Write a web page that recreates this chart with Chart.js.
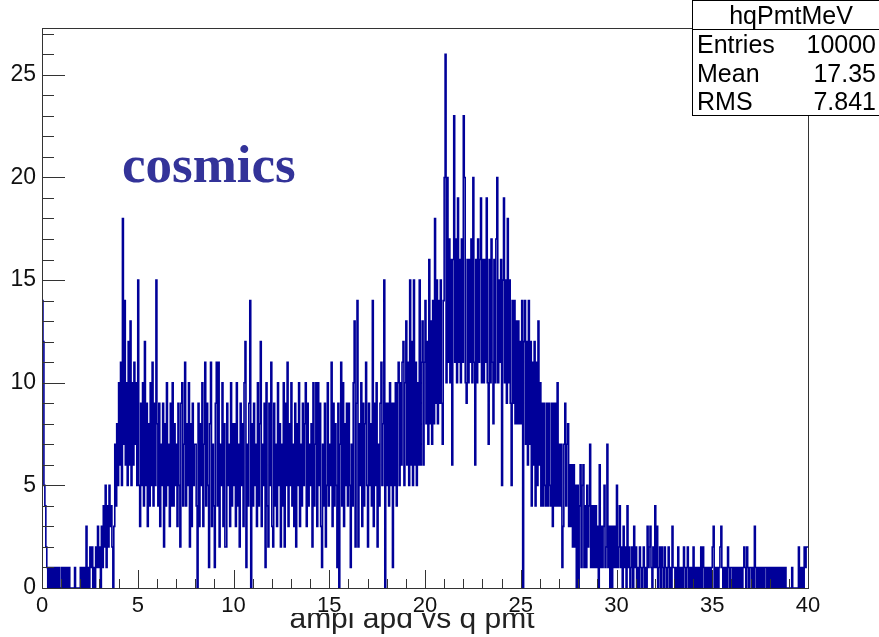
<!DOCTYPE html>
<html><head><meta charset="utf-8">
<script src="https://cdn.jsdelivr.net/npm/chart.js@4.4.1/dist/chart.umd.min.js"></script>
<style>html,body{margin:0;padding:0;background:#fff;overflow:hidden}canvas{display:block}</style>
</head><body>
<canvas id="c" width="879" height="637"></canvas>
<script>
// ---- data (bin width 0.05, range 0..40) ----
const xMin = 0, xMax = 40, yMax = 27.28;
const counts = [
14,12,5,4,2,1,0,1,0,1,0,1,0,1,0,1,0,1,0,0,
1,0,1,0,1,0,1,0,1,0,0,0,0,0,1,0,0,0,0,0,
1,0,1,0,1,0,3,0,1,0,2,1,2,0,1,0,2,1,3,1,
2,0,3,1,4,2,5,1,4,2,5,3,4,2,0,3,7,4,8,5,
10,6,11,5,18,7,14,6,10,5,12,6,13,5,10,6,11,7,10,5,
15,5,3,9,5,10,4,12,5,9,3,8,4,10,5,11,4,9,5,15,
8,4,9,3,7,5,9,2,8,4,10,5,7,3,9,4,10,4,8,5,
7,3,9,5,2,9,10,4,7,11,4,8,5,10,2,8,3,9,5,7,
7,4,0,9,3,8,5,10,3,7,11,4,9,5,1,8,11,3,7,4,
1,9,11,4,11,2,7,5,10,3,8,2,2,9,5,7,3,10,4,8,
5,8,3,10,4,7,2,9,5,8,3,10,12,1,7,4,9,14,0,8,
4,9,5,7,3,10,4,8,12,3,7,5,9,1,10,4,2,9,5,11,
3,2,9,4,7,3,10,5,8,2,7,4,10,2,9,5,11,3,8,5,
10,4,7,3,9,2,8,5,10,3,7,4,9,5,8,10,3,9,4,7,
5,8,2,10,4,7,10,3,10,5,9,3,1,7,4,9,2,5,10,4,
7,5,11,3,9,4,8,5,1,9,0,7,11,4,10,3,8,5,9,4,
9,5,1,7,4,10,13,2,9,14,2,8,5,10,3,9,4,8,11,5,
2,9,5,8,4,14,3,9,5,10,2,7,4,9,11,5,8,15,0,9,
5,9,4,10,5,9,1,9,5,10,4,10,11,5,10,6,11,12,5,10,
13,6,11,5,15,6,12,5,15,6,11,5,10,6,15,6,11,13,6,11,
14,8,12,7,16,8,13,7,14,8,18,9,15,8,14,9,15,9,7,14,
20,26,10,20,11,17,10,16,6,16,23,11,17,10,19,11,16,10,17,11,
23,20,10,9,16,10,16,11,17,10,20,11,6,16,10,17,11,16,19,10,
16,10,16,11,19,10,7,16,10,17,11,8,16,10,17,20,10,15,11,16,
5,15,19,10,15,9,18,10,15,9,5,14,9,14,8,13,8,13,8,12,
8,14,0,12,14,7,12,6,14,7,12,4,11,6,12,4,11,5,13,6,
10,4,9,4,9,5,4,9,4,9,5,4,9,3,9,4,9,4,10,4,
7,4,7,1,3,7,9,4,7,8,3,6,3,6,2,6,2,5,0,5,
0,4,6,1,5,6,1,4,1,5,2,4,7,1,4,1,4,1,4,1,
3,0,6,1,3,1,3,5,1,2,7,1,3,0,3,0,3,1,3,1,
5,1,2,4,1,2,0,3,1,2,0,4,1,2,0,1,2,0,3,1,
2,0,1,0,2,1,0,1,2,0,1,0,3,1,2,3,1,0,2,1,
4,1,3,0,1,2,0,2,1,0,2,1,0,1,2,0,1,0,3,1,
1,0,1,0,2,0,1,0,1,0,2,1,0,1,2,0,1,0,1,0,
2,0,1,0,1,0,1,0,2,0,2,1,0,1,0,1,0,1,0,1,
2,3,0,1,0,1,0,1,2,3,1,0,1,0,1,0,2,1,0,1,
1,0,1,0,1,0,1,0,1,0,1,0,1,2,1,0,2,1,0,1,
1,0,1,0,3,1,0,1,0,1,0,1,0,1,0,1,1,0,1,0,
1,0,1,0,1,0,1,0,1,0,1,0,1,0,1,0,1,0,0,0,
0,0,0,1,0,0,0,0,0,0,2,0,1,0,1,0,2,1,2,2
];
const xTickStep = 5, yTickStep = 5;
const histName = 'hqPmtMeV';
const statLabels = ['Entries', 'Mean', 'RMS'];
const statValues = ['10000', '17.35', '7.841'];
const xAxisTitle = 'ampl apd vs q pmt';
const annotation = 'cosmics';

// ---- build histogram points (lower bin edges + closing edge) ----
const binW = (xMax - xMin) / counts.length;
const points = counts.map((c, i) => ({x: xMin + i * binW, y: c}));
points.push({x: xMax, y: counts[counts.length - 1]});

const SANS = '"Liberation Sans", Arial, Helvetica, sans-serif';

const decor = {
  id: 'decor',
  afterDraw(chart) {
    const {ctx, chartArea: a, scales: {x, y}} = chart;
    ctx.save();
    // frame
    ctx.strokeStyle = '#333';
    ctx.lineWidth = 1;
    ctx.strokeRect(Math.round(a.left) + 0.5, Math.round(a.top) + 0.5,
      Math.round(a.right - a.left), Math.round(a.bottom - a.top));
    // x ticks (inward)
    ctx.beginPath();
    for (let v = xMin; v <= xMax; v += 1) {
      const px = Math.round(x.getPixelForValue(v)) + 0.5;
      const len = (v % 5 === 0) ? 18 : 9;
      ctx.moveTo(px, a.bottom);
      ctx.lineTo(px, a.bottom - len);
    }
    // y ticks (inward)
    for (let v = 0; v <= Math.floor(yMax); v += 1) {
      const py = Math.round(y.getPixelForValue(v)) + 0.5;
      const len = (v % 5 === 0) ? 23 : 12;
      ctx.moveTo(a.left, py);
      ctx.lineTo(a.left + len, py);
    }
    ctx.stroke();

    // stats box
    ctx.fillStyle = '#fff';
    ctx.fillRect(692, 0, 200, 116);
    ctx.strokeStyle = '#000';
    ctx.strokeRect(692.5, 0.5, 200, 115);
    ctx.beginPath();
    ctx.moveTo(692, 29.5); ctx.lineTo(879, 29.5);
    ctx.stroke();
    ctx.fillStyle = '#000';
    ctx.font = '25px ' + SANS;
    ctx.textBaseline = 'alphabetic';
    ctx.textAlign = 'center';
    ctx.fillText(histName, 791, 24);
    const rowsY = [53, 82, 110];
    statLabels.forEach((l, i) => {
      ctx.textAlign = 'left';
      ctx.fillText(l, 697, rowsY[i]);
      ctx.textAlign = 'right';
      ctx.fillText(statValues[i], 876, rowsY[i]);
    });

    // annotation
    ctx.fillStyle = '#333399';
    ctx.font = 'bold 53px "Liberation Serif", "Times New Roman", serif';
    ctx.textAlign = 'left';
    ctx.fillText(annotation, 122, 182);

    // x-axis title (clipped at top as in the reference)
    ctx.save();
    ctx.beginPath();
    ctx.rect(0, 613, 879, 30);
    ctx.clip();
    ctx.fillStyle = '#222';
    ctx.font = '30px ' + SANS;
    ctx.textAlign = 'center';
    ctx.fillText(xAxisTitle, 412, 628);
    ctx.restore();
    ctx.restore();
  }
};

Chart.defaults.font.family = SANS;
new Chart(document.getElementById('c'), {
  type: 'line',
  data: {
    datasets: [{
      data: points,
      stepped: 'before',
      borderColor: '#000099',
      borderWidth: 1.6,
      pointRadius: 0,
      fill: false,
      tension: 0
    }]
  },
  options: {
    responsive: false,
    animation: false,
    parsing: false,
    normalized: true,
    layout: {padding: {left: 0, right: 71, top: 28, bottom: 0}},
    plugins: {legend: {display: false}, tooltip: {enabled: false}},
    scales: {
      x: {
        type: 'linear', min: xMin, max: xMax,
        grid: {display: false, drawTicks: false},
        border: {display: false},
        ticks: {stepSize: xTickStep, autoSkip: false, maxRotation: 0, padding: 5,
          color: '#111', font: {size: 22}, includeBounds: false},
        afterFit(s) { s.height = 49; }
      },
      y: {
        type: 'linear', min: 0, max: yMax,
        grid: {display: false, drawTicks: false},
        border: {display: false},
        ticks: {stepSize: yTickStep, autoSkip: false, padding: 6,
          color: '#111', font: {size: 23}, includeBounds: false},
        afterFit(s) { s.width = 42; }
      }
    }
  },
  plugins: [decor]
});
</script>
</body></html>
